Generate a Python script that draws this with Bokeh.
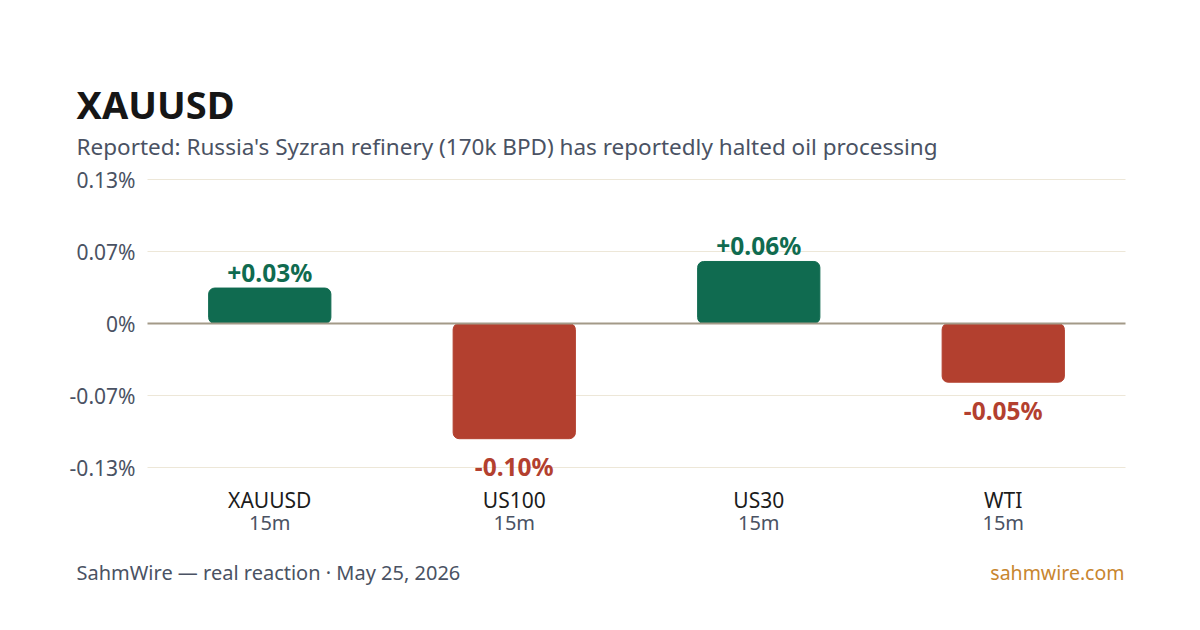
from bokeh.plotting import figure
from bokeh.models import ColumnDataSource, Range1d, Label, LabelSet
from bokeh.core.properties import value
from bokeh.embed import file_html
from bokeh.resources import INLINE

# Market reaction data (percent change over the window)
symbols = ["XAUUSD", "US100", "US30", "WTI"]
windows = ["15m", "15m", "15m", "15m"]
changes = [0.032, -0.104, 0.056, -0.053]

y_ticks = [0.13, 0.065, 0.0, -0.065, -0.13]
y_tick_labels = ["0.13%", "0.07%", "0%", "-0.07%", "-0.13%"]

title_text = "XAUUSD"
subtitle_text = "Reported: Russia's Syzran refinery (170k BPD) has reportedly halted oil processing"
footer_left = "SahmWire \u2014 real reaction \u00b7 May 25, 2026"
footer_right = "sahmwire.com"

UP = "#106b50"
DOWN = "#b3402f"
FONT = "Noto Sans"
MUTED = "#4a5263"
GRID = "#ede7d8"
ZERO = "#a39a88"

W, H = 1200, 630
# plot area on the page (px): bands run from PLOT_L to PLOT_R, values from PLOT_T to PLOT_B
PLOT_L, PLOT_R, PLOT_T, PLOT_B = 147, 1125, 179, 467
Y_TOP, Y_BOT = y_ticks[0], y_ticks[-1]

n = len(symbols)
xs = list(range(n))
band_px = (PLOT_R - PLOT_L) / n
y_px = (PLOT_B - PLOT_T) / (Y_TOP - Y_BOT)

x_range = Range1d(-0.5 - PLOT_L / band_px, n - 0.5 + (W - PLOT_R) / band_px)
y_range = Range1d(Y_BOT - (H - PLOT_B) / y_px, Y_TOP + PLOT_T / y_px)

p = figure(width=W, height=H, output_backend="svg", toolbar_location=None,
           x_range=x_range, y_range=y_range, min_border=0)
p.axis.visible = False
p.grid.visible = False
p.outline_line_color = None
p.background_fill_color = "white"
p.border_fill_color = "white"

# horizontal grid at the value ticks, and the zero baseline
grid_y = [t for t in y_ticks if t != 0]
p.segment(x0=[-0.5] * len(grid_y), x1=[n - 0.5] * len(grid_y), y0=grid_y, y1=grid_y,
          line_color=GRID, line_width=1)

colors = [UP if c >= 0 else DOWN for c in changes]
bar_src = ColumnDataSource(dict(x=xs, top=changes, color=colors))
p.vbar(x="x", top="top", bottom=0, width=0.5, source=bar_src,
       fill_color="color", line_color="color", border_radius=6)

p.segment(x0=[-0.5], x1=[n - 0.5], y0=[0], y1=[0], line_color=ZERO, line_width=2)

# value-axis labels
tick_src = ColumnDataSource(dict(x=[-0.5] * len(y_ticks), y=y_ticks, t=y_tick_labels))
p.add_layout(LabelSet(x="x", y="y", text="t", source=tick_src, x_offset=-12,
                      text_align="right", text_baseline="middle", text_font=value(FONT),
                      text_font_size=value("21px"), text_color=value(MUTED)))

# value labels above gains, below losses
labels = [f"{c:+.2f}%" for c in changes]
pos_src = ColumnDataSource(dict(
    x=[i for i, c in zip(xs, changes) if c >= 0],
    y=[c for c in changes if c >= 0],
    t=[l for l, c in zip(labels, changes) if c >= 0]))
neg_src = ColumnDataSource(dict(
    x=[i for i, c in zip(xs, changes) if c < 0],
    y=[c for c in changes if c < 0],
    t=[l for l, c in zip(labels, changes) if c < 0]))
p.add_layout(LabelSet(x="x", y="y", text="t", source=pos_src, text_align="center",
                      text_baseline="middle", y_offset=16, text_font=value(FONT),
                      text_font_size=value("24.5px"), text_font_style=value("bold"),
                      text_color=value(UP)))
p.add_layout(LabelSet(x="x", y="y", text="t", source=neg_src, text_align="center",
                      text_baseline="middle", y_offset=-28, text_font=value(FONT),
                      text_font_size=value("24.5px"), text_font_style=value("bold"),
                      text_color=value(DOWN)))

# category labels: symbol, then window
cat_src = ColumnDataSource(dict(x=xs, name=symbols, win=windows))
p.add_layout(LabelSet(x="x", y=H - 499, y_units="screen", text="name", source=cat_src,
                      text_align="center", text_baseline="middle", text_font=value(FONT),
                      text_font_size=value("21px"), text_color=value("#1c1c1c")))
p.add_layout(LabelSet(x="x", y=H - 522, y_units="screen", text="win", source=cat_src,
                      text_align="center", text_baseline="middle", text_font=value(FONT),
                      text_font_size=value("20px"), text_color=value(MUTED)))


def page_label(text, x, y, size, color, bold=False, align="left"):
    # x, y are page pixels from the top-left corner
    p.add_layout(Label(x=x, y=H - y, x_units="screen", y_units="screen",
                       text=text, text_align=align, text_baseline="middle",
                       text_font=FONT, text_font_size=size,
                       text_font_style="bold" if bold else "normal", text_color=color))


page_label(title_text, 76, 103, "38px", "#161616", bold=True)
page_label(subtitle_text, 76, 146, "22.5px", MUTED)
page_label(footer_left, 76, 572, "20px", MUTED)
page_label(footer_right, 1124, 572, "19.5px", "#c8862f", align="right")

open("out.html", "w").write(file_html(p, INLINE))
